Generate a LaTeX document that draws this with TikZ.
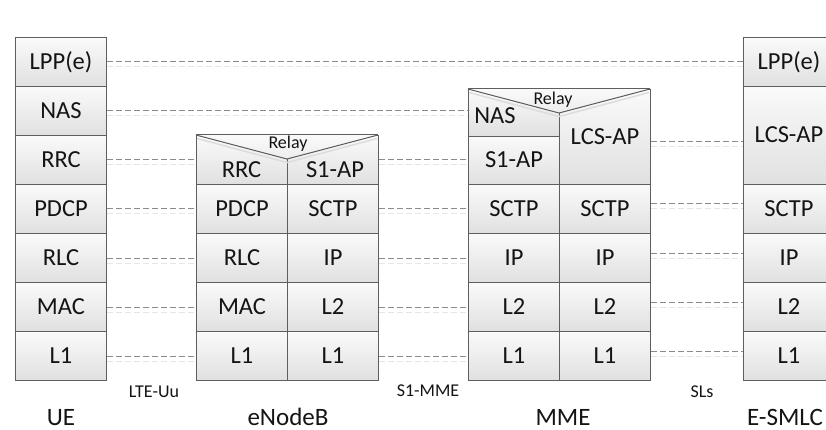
\documentclass[tikz,border=0pt]{standalone}
\usepackage{fontspec}
\setmainfont{Carlito}
\pgfdeclarelayer{bg}
\pgfsetlayers{bg,main}
\definecolor{bordc}{HTML}{5E5E5E}
\definecolor{cellt}{HTML}{FAFAFA}
\definecolor{cellb}{HTML}{E0E0E0}
\definecolor{txtc}{HTML}{141414}
\definecolor{linkc}{HTML}{8A8A8A}
\definecolor{linksh}{HTML}{E6E6E6}
\definecolor{divc}{HTML}{A8A8A8}
\definecolor{divsh}{HTML}{DDDDDD}
\definecolor{shadc}{HTML}{DCDCDC}
\newcommand{\myCellFont}{\fontsize{24.5}{28}\selectfont}
\newcommand{\mySmallFont}{\fontsize{18}{21}\selectfont}
\newcommand{\myBigFont}{\fontsize{25}{30}\selectfont}
\newcommand{\Cell}[6]{\node[cell, minimum width={(#4)-(#2)}, minimum height={(#5)-(#3)}] (#1) at (#2,#3) {#6};}
\tikzset{
  cell/.style={draw=bordc, line width=1pt, top color=cellt, bottom color=cellb,
    anchor=north west, inner sep=0pt, font=\myCellFont, text=txtc,
    text height=15pt, text depth=0pt, align=center},
  celltext/.style={font=\myCellFont, text=txtc, inner sep=0pt, text height=15pt, text depth=0pt},
  relaytext/.style={font=\mySmallFont, text=txtc, inner sep=0pt, text height=12pt, text depth=0pt},
  iflabel/.style={font=\mySmallFont, text=txtc, inner sep=0pt, text height=12pt, text depth=0pt},
  entity/.style={font=\myBigFont, text=txtc, inner sep=0pt, anchor=base},
  link/.style={draw=linkc, line width=1pt, dash pattern=on 6pt off 3pt},
  linkshadow/.style={draw=linksh, line width=1pt, dash pattern=on 6pt off 3pt},
  divider/.style={draw=divc, line width=0.8pt, dash pattern=on 1pt off 1pt},
  dividersh/.style={draw=divsh, line width=0.8pt, dash pattern=on 1pt off 1pt},
  boxshadow/.style={fill=shadc, draw=none},
  vline/.style={draw=bordc, line width=1pt, line join=miter},
  vshadow/.style={draw=shadc, line width=1.5pt},
  trifill/.style={top color=cellt, bottom color=cellt!50!cellb, draw=none}
}
\begin{document}
\begin{tikzpicture}[x=1pt,y=-1pt]
\useasboundingbox (0,0) rectangle (826,430);
\clip (0,0) rectangle (826,430);
\fill[white] (0,0) rectangle (826,430);

% interface dividers and stack shadows
\begin{pgfonlayer}{bg}
  \coordinate (d1t) at (152,14); \coordinate (d1b) at (152,378);
  \coordinate (d2t) at (428,14); \coordinate (d2b) at (428,378);
  \coordinate (d3t) at (702,14); \coordinate (d3b) at (702,378);
  \draw[dividersh] ([xshift=5pt]d1t) -- ([xshift=5pt]d1b);
  \draw[dividersh] ([xshift=5pt]d2t) -- ([xshift=5pt]d2b);
  \draw[dividersh] ([xshift=5pt]d3t) -- ([xshift=5pt]d3b);
  \draw[divider] (d1t) -- (d1b);
  \draw[divider] (d2t) -- (d2b);
  \draw[divider] (d3t) -- (d3b);
  \fill[boxshadow] (19,41) rectangle (110,384);
  \fill[boxshadow] (200,139) rectangle (382,384);
  \fill[boxshadow] (472,93) rectangle (654,384);
  \fill[boxshadow] (747,41) rectangle (838,384);
\end{pgfonlayer}

% UE
\Cell{ue-lpp}{15}{37}{106}{86}{LPP(e)}
\Cell{ue-nas}{15}{86}{106}{135}{NAS}
\Cell{ue-rrc}{15}{135}{106}{184}{RRC}
\Cell{ue-pdcp}{15}{184}{106}{233}{PDCP}
\Cell{ue-rlc}{15}{233}{106}{282}{RLC}
\Cell{ue-mac}{15}{282}{106}{331}{MAC}
\Cell{ue-l1}{15}{331}{106}{380}{L1}

% eNodeB
\Cell{enb-rrc}{196}{135}{287}{184}{}
\Cell{enb-s1}{287}{135}{378}{184}{}
\Cell{enb-pdcp}{196}{184}{287}{233}{PDCP}
\Cell{enb-sctp}{287}{184}{378}{233}{SCTP}
\Cell{enb-rlc}{196}{233}{287}{282}{RLC}
\Cell{enb-ip}{287}{233}{378}{282}{IP}
\Cell{enb-mac}{196}{282}{287}{331}{MAC}
\Cell{enb-l2}{287}{282}{378}{331}{L2}
\Cell{enb-l1a}{196}{331}{287}{380}{L1}
\Cell{enb-l1b}{287}{331}{378}{380}{L1}
\fill[trifill] (196,135) -- (287,159) -- (378,135) -- cycle;
\draw[vshadow] (197,138.5) -- (287,162.5) -- (377,138.5);
\draw[vline] (196,135) -- (287,159) -- (378,135);
\draw[vline] (196,135) -- (378,135);
\node[relaytext] (relay-enb) at (288,142.5) {Relay};
\node[celltext] (t-enb-rrc) at (241.5,170) {RRC};
\node[celltext] (t-enb-s1) at (335,170) {S1-AP};

% MME
\Cell{mme-nas}{468}{89}{559}{136}{}
\Cell{mme-s1}{468}{136}{559}{184}{S1-AP}
\Cell{mme-lcs}{559}{89}{650}{184}{LCS-AP}
\Cell{mme-sctpl}{468}{184}{559}{233}{SCTP}
\Cell{mme-sctpr}{559}{184}{650}{233}{SCTP}
\Cell{mme-ipl}{468}{233}{559}{282}{IP}
\Cell{mme-ipr}{559}{233}{650}{282}{IP}
\Cell{mme-l2l}{468}{282}{559}{331}{L2}
\Cell{mme-l2r}{559}{282}{650}{331}{L2}
\Cell{mme-l1l}{468}{331}{559}{380}{L1}
\Cell{mme-l1r}{559}{331}{650}{380}{L1}
\fill[trifill] (468,89) -- (559,113) -- (650,89) -- cycle;
\draw[vshadow] (469,92.5) -- (559,116.5) -- (649,92.5);
\draw[vline] (468,89) -- (559,113) -- (650,89);
\draw[vline] (468,89) -- (650,89);
\node[relaytext] (relay-mme) at (553,98.5) {Relay};
\node[celltext] (t-mme-nas) at (495,116) {NAS};

% E-SMLC
\Cell{es-lpp}{743}{37}{834}{86}{LPP(e)}
\Cell{es-lcs}{743}{86}{834}{184}{LCS-AP}
\Cell{es-sctp}{743}{184}{834}{233}{SCTP}
\Cell{es-ip}{743}{233}{834}{282}{IP}
\Cell{es-l2}{743}{282}{834}{331}{L2}
\Cell{es-l1}{743}{331}{834}{380}{L1}

% peer-to-peer links (light echo first, then the dashed line)
\foreach \a/\b/\s in {ue-pdcp/enb-pdcp/0, ue-rlc/enb-rlc/0, ue-mac/enb-mac/0, ue-l1/enb-l1a/0,
    enb-sctp/mme-sctpl/0, enb-ip/mme-ipl/0, enb-l2/mme-l2l/0, enb-l1b/mme-l1l/0,
    mme-sctpr/es-sctp/5, mme-ipr/es-ip/5, mme-l2r/es-l2/5, mme-l1r/es-l1/5, ue-lpp/es-lpp/0}{
  \draw[linkshadow] ([yshift=\s pt-5pt]\a.east) -- ([yshift=\s pt-5pt]\b.west);
  \draw[link] ([yshift=\s pt]\a.east) -- ([yshift=\s pt]\b.west);
}
\draw[linkshadow] ([yshift=-5pt]ue-nas.east) -- ([yshift=-5pt]ue-nas.east -| mme-nas.west);
\draw[link] (ue-nas.east) -- (ue-nas.east -| mme-nas.west);
\draw[linkshadow] ([yshift=-5pt]ue-rrc.east) -- ([yshift=-5pt]ue-rrc.east -| enb-rrc.west);
\draw[link] (ue-rrc.east) -- (ue-rrc.east -| enb-rrc.west);
\draw[linkshadow] ([yshift=-5pt]enb-s1.east) -- ([yshift=-5pt]enb-s1.east -| mme-s1.west);
\draw[link] (enb-s1.east) -- (enb-s1.east -| mme-s1.west);
\draw[linkshadow] ([yshift=-10pt]mme-lcs.east) -- ([yshift=-10pt]mme-lcs.east -| es-lcs.west);
\draw[link] ([yshift=-5pt]mme-lcs.east) -- ([yshift=-5pt]mme-lcs.east -| es-lcs.west);

% interface labels
\node[iflabel] (lbl-uu) at (154,391) {LTE-Uu};
\node[iflabel] (lbl-s1) at (428,390) {S1-MME};
\node[iflabel] (lbl-sls) at (702,391) {SLs};

% entity names
\node[entity] (n-ue) at (61,425) {UE};
\node[entity] (n-enb) at (288,425) {eNodeB};
\node[entity] (n-mme) at (563,425) {MME};
\node[entity] (n-es) at (785,425) {E-SMLC};
\end{tikzpicture}
\end{document}
